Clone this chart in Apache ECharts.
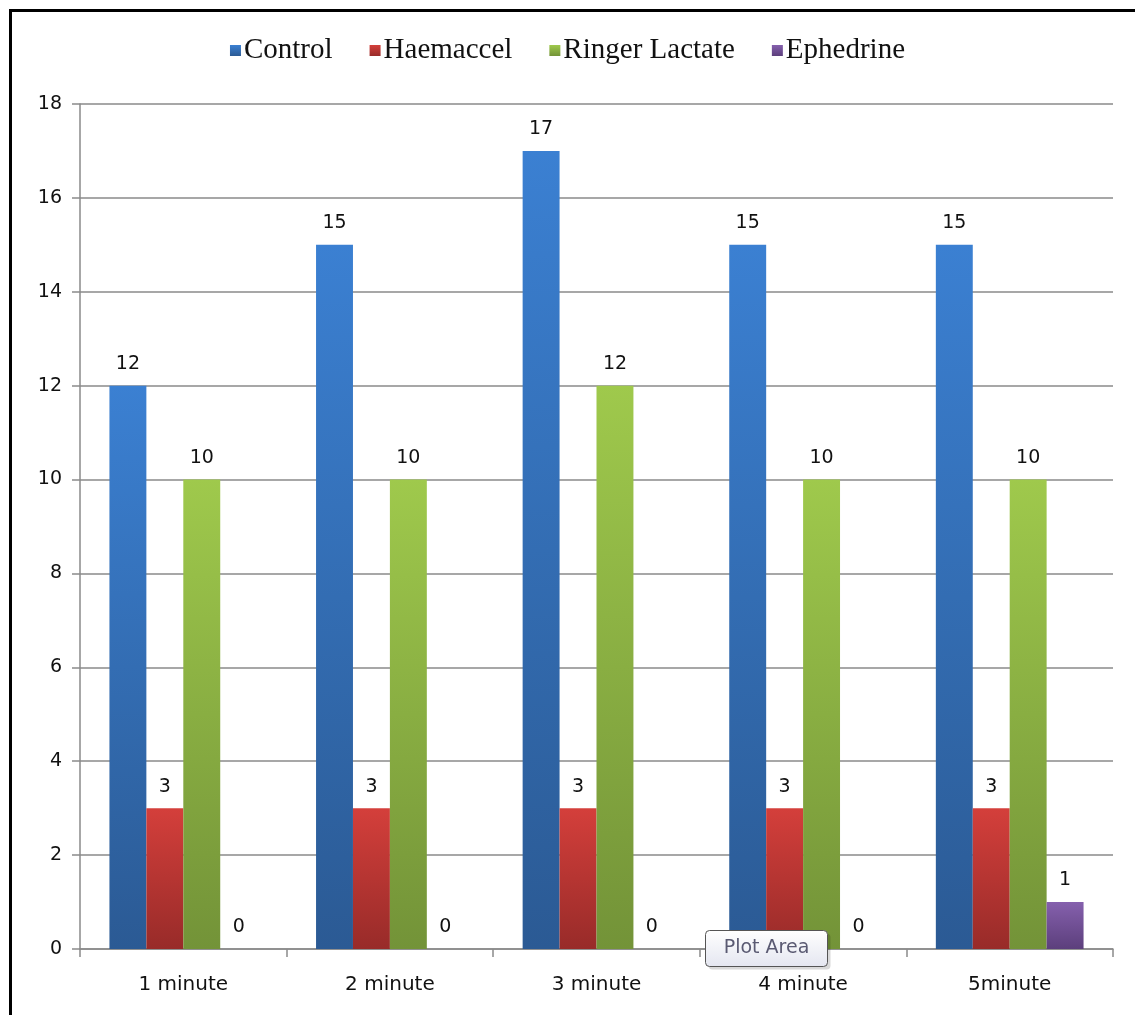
<!DOCTYPE html>
<html>
<head>
<meta charset="utf-8">
<script src="https://cdn.jsdelivr.net/npm/echarts@6/dist/echarts.min.js"></script>
<style>
  html, body { margin: 0; padding: 0; background: #fff; }
  #chart { width: 1135px; height: 1015px; }
</style>
</head>
<body>
<div id="chart"></div>
<script>
// data
const categories = ["1 minute", "2 minute", "3 minute", "4 minute", "5minute"];
const control = [12, 15, 17, 15, 15];
const haemaccel = [3, 3, 3, 3, 3];
const ringerLactate = [10, 10, 12, 10, 10];
const ephedrine = [0, 0, 0, 0, 1];

const chart = echarts.init(document.getElementById("chart"));

const grad = (top, bottom) =>
  new echarts.graphic.LinearGradient(0, 0, 0, 1, [
    { offset: 0, color: top },
    { offset: 1, color: bottom },
  ]);

const labelFont = "DejaVu Sans";

const makeSeries = (name, data, top, bottom, legendColor) => ({
  name,
  type: "bar",
  data,
  barGap: "0%",
  barCategoryGap: "28.5%",
  color: legendColor,
  itemStyle: { color: grad(top, bottom) },
  label: {
    show: true,
    position: "top",
    distance: 12,
    color: "#111",
    fontFamily: labelFont,
    fontSize: 19,
  },
});

const option = {
  backgroundColor: "#fff",
  animation: false,
  legend: {
    top: 31,
    left: "center",
    itemWidth: 11,
    itemHeight: 11,
    itemGap: 37,
    icon: "rect",
    textStyle: {
      fontFamily: "Liberation Serif",
      fontSize: 29,
      color: "#111",
      padding: [0, 0, 0, -2],
    },
    data: ["Control", "Haemaccel", "Ringer Lactate", "Ephedrine"],
  },
  grid: { left: 80, right: 22, top: 104, bottom: 66 },
  xAxis: {
    type: "category",
    data: categories,
    axisLine: { lineStyle: { color: "#8a8a8a", width: 1.5 } },
    axisTick: { show: true, length: 8, lineStyle: { color: "#8a8a8a", width: 1.5 } },
    axisLabel: {
      color: "#111",
      fontFamily: labelFont,
      fontSize: 20,
      margin: 26,
    },
  },
  yAxis: {
    type: "value",
    min: 0,
    max: 18,
    interval: 2,
    axisLine: { show: true, lineStyle: { color: "#8a8a8a", width: 1.5 } },
    axisTick: { show: true, length: 8, lineStyle: { color: "#8a8a8a", width: 1.5 } },
    splitLine: { lineStyle: { color: "#8a8a8a", width: 1.5 } },
    axisLabel: {
      color: "#111",
      fontFamily: labelFont,
      fontSize: 19,
      margin: 18,
    },
  },
  graphic: [
    {
      type: "rect",
      left: 8,
      top: 8,
      z: 100,
      shape: { width: 1140, height: 1020 },
      style: { fill: "none", stroke: "#000", lineWidth: 3 },
      silent: true,
    },
    {
      type: "group",
      left: 705,
      top: 930,
      z: 100,
      children: [
        {
          type: "rect",
          z: 100,
          shape: { x: 3, y: 3, width: 122, height: 36, r: 4 },
          style: { fill: "rgba(0,0,0,0.15)" },
        },
        {
          type: "rect",
          z: 101,
          shape: { x: 0, y: 0, width: 122, height: 36, r: 4 },
          style: {
            fill: grad("#ffffff", "#e4e6f0"),
            stroke: "#555",
            lineWidth: 1,
          },
        },
        {
          type: "text",
          z: 102,
          x: 61,
          y: 18,
          style: {
            text: "Plot Area",
            fill: "#5a5a72",
            font: "19px 'DejaVu Sans'",
            align: "center",
            verticalAlign: "middle",
          },
        },
      ],
    },
  ],
  series: [
    makeSeries("Control", control, "#3b80d2", "#2b5a94", "#3a74c2"),
    makeSeries("Haemaccel", haemaccel, "#d43f3b", "#982b29", "#c0393a"),
    makeSeries("Ringer Lactate", ringerLactate, "#9fc94c", "#739338", "#8fb543"),
    makeSeries("Ephedrine", ephedrine, "#8560ad", "#5c3f7c", "#7550a0"),
  ],
};

chart.setOption(option);
</script>
</body>
</html>
